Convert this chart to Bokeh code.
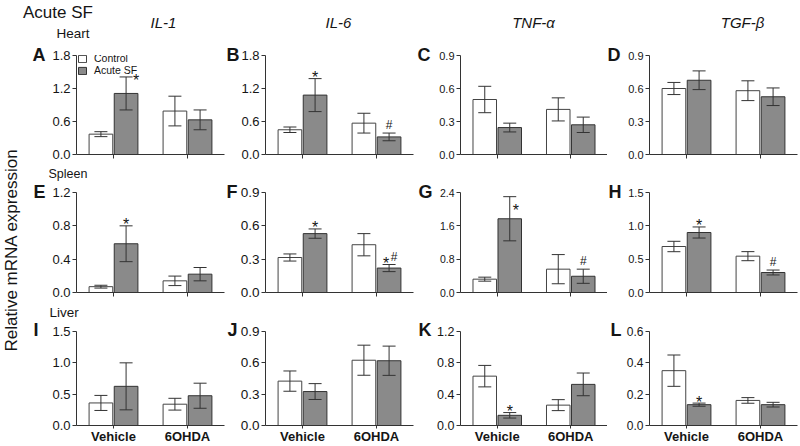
import math
from bokeh.plotting import figure
from bokeh.layouts import row, column
from bokeh.models import (ColumnDataSource, FactorRange, Range1d, FixedTicker,
                          PrintfTickFormatter, Whisker, TeeHead, Label, Legend,
                          LegendItem, CustomLabelingPolicy, Title)
from bokeh.transform import dodge
from bokeh.core.properties import value
from bokeh.embed import file_html
from bokeh.resources import INLINE

FONT = "Liberation Sans"

# ---------------- data ----------------
groups = ["Vehicle", "6OHDA"]
series_names = ["Control", "Acute SF"]
genes = ["IL-1", "IL-6", "TNF-α", "TGF-β"]
tissues = ["Heart", "Spleen", "Liver"]
letters = ["A", "B", "C", "D", "E", "F", "G", "H", "I", "J", "K", "L"]

y_ticks = [
    [0, 0.6, 1.2, 1.8], [0, 0.6, 1.2, 1.8], [0, 0.3, 0.6, 0.9], [0, 0.3, 0.6, 0.9],
    [0, 0.4, 0.8, 1.2], [0, 0.3, 0.6, 0.9], [0, 0.8, 1.6, 2.4], [0, 0.5, 1.0, 1.5],
    [0, 0.5, 1.0, 1.5], [0, 0.3, 0.6, 0.9], [0, 0.4, 0.8, 1.2], [0, 0.2, 0.4, 0.6],
]

control_mean = [[0.37, 0.79], [0.45, 0.57], [0.50, 0.41], [0.60, 0.58],
                [0.07, 0.14], [0.315, 0.43], [0.32, 0.56], [0.69, 0.545],
                [0.36, 0.34], [0.425, 0.625], [0.63, 0.26], [0.35, 0.16]]
control_sem = [[0.045, 0.27], [0.05, 0.18], [0.12, 0.105], [0.055, 0.09],
               [0.017, 0.057], [0.032, 0.10], [0.048, 0.35], [0.078, 0.068],
               [0.12, 0.094], [0.097, 0.144], [0.137, 0.07], [0.10, 0.018]]
sf_mean = [[1.11, 0.63], [1.08, 0.32], [0.245, 0.27], [0.675, 0.525],
           [0.585, 0.22], [0.53, 0.22], [1.77, 0.39], [0.90, 0.30],
           [0.625, 0.475], [0.325, 0.62], [0.13, 0.525], [0.133, 0.133]]
sf_sem = [[0.30, 0.18], [0.30, 0.07], [0.04, 0.07], [0.085, 0.08],
          [0.215, 0.08], [0.042, 0.032], [0.53, 0.17], [0.083, 0.037],
          [0.375, 0.20], [0.076, 0.14], [0.035, 0.145], [0.01, 0.015]]
sf_star = [["*", ""], ["*", ""], ["", ""], ["", ""],
           ["*", ""], ["*", "*"], ["*", ""], ["*", ""],
           ["", ""], ["", ""], ["*", ""], ["*", ""]]
sf_hash = [["", ""], ["", "#"], ["", ""], ["", ""],
           ["", ""], ["", "#"], ["", "#"], ["", "#"],
           ["", ""], ["", ""], ["", ""], ["", ""]]

# ---------------- layout / style ----------------
TOTAL_W, TOTAL_H = 800, 446
YLAB_W = 22
HEADER_H = 47
STRIP_H = [20, 21]
panel_starts = [22, 225, 416, 607]
panel_ends = [225, 416, 607, 800]
frame_lefts = [76, 265, 460, 649]
frame_ws = [148, 148, 147, 148]
TOP_B = 8
row_hs = [117, 118, 123]
frame_hs = [99, 100, 97]
bot_bs = [10, 10, 18]
letter_standoff = [-19, -18, -17]
tick_font = ["13px", "13px", "11px", "11px", "13px", "13.5px", "10.5px", "11px",
             "13px", "13.5px", "12.5px", "12px"]
letter_page_x = [32, 226, 417, 607, 33, 226, 418, 608, 33, 227, 418, 610]
title_local_x = [141, 316, 511, 720]
star_special = {0: (10, 4), 6: (6, 14)}   # panel -> (x_offset, y_offset)

CTRL_FILL, CTRL_LINE = "white", "#444444"
SF_FILL, SF_LINE = "#8a8a8a", "#333333"
ERR = "#333333"
TXT = "#151515"
AX = "#333333"
OFF = 0.17
BW = 0.32


def text_canvas(w, h):
    f = figure(width=w, height=h, x_range=Range1d(0, w), y_range=Range1d(0, h),
               output_backend="svg", toolbar_location=None, min_border=0,
               x_axis_location=None, y_axis_location=None, title=None,
               outline_line_color=None, background_fill_color="white",
               border_fill_color="white")
    f.xgrid.visible = False
    f.ygrid.visible = False
    return f


def put(f, x, y, text, size, style="normal", align="left", angle=0.0):
    f.add_layout(Label(x=x, y=y, x_units="screen", y_units="screen", text=text,
                       text_font=FONT, text_font_size=size, text_font_style=style,
                       text_align=align, text_baseline="middle", text_color=TXT,
                       angle=angle))


hide_labels = CustomLabelingPolicy(code="return new Set()")

rows = []
for r in range(3):
    items = []
    for c in range(4):
        i = r * 4 + c
        start = panel_starts[c]
        width = panel_ends[c] - start
        lb = frame_lefts[c] - start
        rb = width - lb - frame_ws[c]
        fh = frame_hs[r]
        ymax = y_ticks[i][-1]
        p = figure(width=width, height=row_hs[r],
                   x_range=FactorRange(*groups, range_padding=0),
                   y_range=Range1d(0, ymax),
                   output_backend="svg", toolbar_location=None,
                   min_border_left=lb, min_border_right=rb,
                   min_border_top=TOP_B, min_border_bottom=bot_bs[r],
                   outline_line_color=None, background_fill_color="white",
                   border_fill_color="white")
        p.xgrid.visible = False
        p.ygrid.visible = False

        p.yaxis.ticker = FixedTicker(ticks=y_ticks[i], minor_ticks=[])
        p.yaxis.formatter = PrintfTickFormatter(format="%.1f")
        p.yaxis.major_label_text_font = FONT
        p.yaxis.major_label_text_font_size = tick_font[i]
        p.yaxis.major_label_text_color = TXT
        p.yaxis.major_tick_out = 4
        p.yaxis.major_tick_in = 0
        p.yaxis.minor_tick_out = 0
        p.yaxis.major_label_standoff = 2
        p.yaxis.axis_line_color = AX
        p.yaxis.major_tick_line_color = AX
        p.xaxis.axis_line_color = AX
        p.xaxis.major_tick_line_color = AX
        p.xaxis.major_tick_in = 0
        p.xaxis.major_label_text_font = FONT
        p.xaxis.major_label_text_color = TXT
        p.xaxis.major_label_standoff = 0
        if r < 2:
            p.xaxis.major_tick_out = 4
            p.xaxis.major_label_text_font_size = "1px"
            p.xaxis.major_label_policy = hide_labels
        else:
            p.xaxis.major_tick_out = 3
            p.xaxis.major_label_text_font_size = "13px"
            p.xaxis.major_label_text_font_style = "bold"

        cm, ce = control_mean[i], control_sem[i]
        sm, se = sf_mean[i], sf_sem[i]
        ctrl_src = ColumnDataSource(dict(group=groups, mean=cm,
                                         upper=[m + e for m, e in zip(cm, ce)],
                                         lower=[m - e for m, e in zip(cm, ce)]))
        sf_src = ColumnDataSource(dict(group=groups, mean=sm,
                                       upper=[m + e for m, e in zip(sm, se)],
                                       lower=[m - e for m, e in zip(sm, se)]))

        r_ctrl = p.vbar(x=dodge("group", -OFF, range=p.x_range), top="mean", bottom=0,
                        width=BW, source=ctrl_src, fill_color=CTRL_FILL,
                        line_color=CTRL_LINE, line_width=1)
        r_sf = p.vbar(x=dodge("group", OFF, range=p.x_range), top="mean", bottom=0,
                      width=BW, source=sf_src, fill_color=SF_FILL,
                      line_color=SF_LINE, line_width=1)
        for src, off in ((ctrl_src, -OFF), (sf_src, OFF)):
            p.add_layout(Whisker(source=src, base=dodge("group", off, range=p.x_range),
                                 upper="upper", lower="lower", dimension="height",
                                 line_color=ERR, line_width=1, level="overlay",
                                 upper_head=TeeHead(size=13, line_color=ERR, line_width=1),
                                 lower_head=TeeHead(size=13, line_color=ERR, line_width=1)))

        st = dict(group=[], upper=[], text=[], dx=[], dy=[])
        hs = dict(group=[], upper=[], text=[], dx=[])
        for k in range(2):
            up = sm[k] + se[k]
            if sf_star[i][k]:
                if i in star_special:
                    dx, dy = star_special[i]
                else:
                    dx, dy = (-3 if sf_hash[i][k] else 0), -1
                st["group"].append(groups[k]); st["upper"].append(up)
                st["text"].append(sf_star[i][k]); st["dx"].append(dx); st["dy"].append(dy)
            if sf_hash[i][k]:
                hs["group"].append(groups[k]); hs["upper"].append(up)
                hs["text"].append(sf_hash[i][k]); hs["dx"].append(5 if sf_star[i][k] else 0)
        if st["text"]:
            p.text(x=dodge("group", OFF, range=p.x_range), y="upper", text="text",
                   source=ColumnDataSource(st), x_offset="dx", y_offset="dy",
                   text_font=value(FONT), text_font_size="16px", text_color=TXT,
                   text_align="center", text_baseline="alphabetic")
        if hs["text"]:
            p.text(x=dodge("group", OFF, range=p.x_range), y="upper", text="text",
                   source=ColumnDataSource(hs), x_offset="dx", y_offset=-8,
                   text_font=value(FONT), text_font_size="12px", text_color=TXT,
                   text_align="center", text_baseline="alphabetic")

        if i == 0:
            leg = Legend(items=[LegendItem(label=series_names[0], renderers=[r_ctrl]),
                                LegendItem(label=series_names[1], renderers=[r_sf])],
                         location=(1, fh + 1 - 22), glyph_width=10, glyph_height=9,
                         label_height=9, label_standoff=7, spacing=-2, padding=0,
                         margin=0, border_line_color=None, background_fill_alpha=0,
                         label_text_font=FONT, label_text_font_size="10.5px",
                         label_text_color=TXT)
            p.add_layout(leg)

        # panel letter, drawn as a left-aligned title pulled down beside the y axis
        p.add_layout(Title(text=letters[i], align="left",
                           offset=letter_page_x[i] - frame_lefts[c],
                           standoff=letter_standoff[r], text_font=FONT,
                           text_font_size="18px", text_font_style="bold",
                           text_color=TXT), "above")
        items.append(p)
    rows.append(row(*items, spacing=0))

# header
GW = TOTAL_W - YLAB_W
header = text_canvas(GW, HEADER_H)
put(header, 0.5, HEADER_H - 12, "Acute SF", "17px")
put(header, 34, HEADER_H - 33, tissues[0], "13.5px")
for c in range(4):
    put(header, title_local_x[c], HEADER_H - 22, genes[c], "15px", "italic", "center")

strip2 = text_canvas(GW, STRIP_H[0])
put(strip2, 26, STRIP_H[0] - 9, tissues[1], "12.5px")
strip3 = text_canvas(GW, STRIP_H[1])
put(strip3, 27, STRIP_H[1] - 10, tissues[2], "13.5px")

ylab = text_canvas(YLAB_W, TOTAL_H)
put(ylab, 11, TOTAL_H - 249.5, "Relative mRNA expression", "17px", "normal", "center",
    math.pi / 2)

grid = column(header, rows[0], strip2, rows[1], strip3, rows[2], spacing=0)
layout = row(ylab, grid, spacing=0)

open("out.html", "w").write(file_html(layout, INLINE))
